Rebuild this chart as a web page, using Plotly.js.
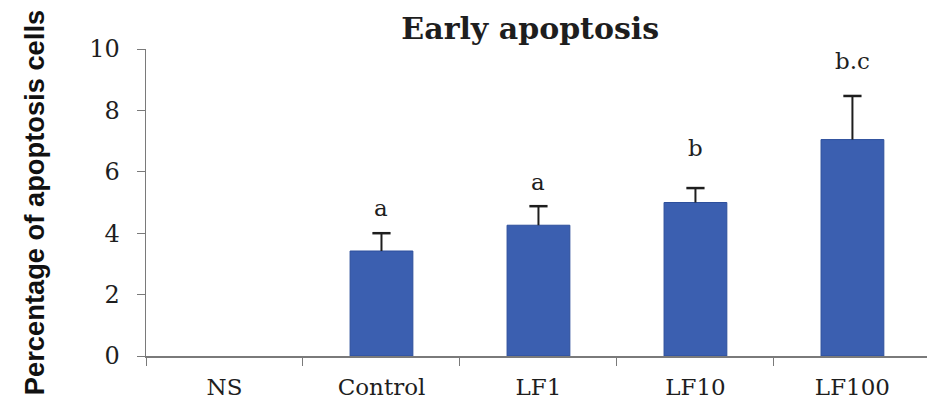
<!DOCTYPE html>
<html>
<head>
<meta charset="utf-8">
<script src="https://cdn.plot.ly/plotly-3.0.1.min.js"></script>
<style>
  html, body { margin: 0; padding: 0; background: #fff; }
  #chart { width: 927px; height: 404px; }
</style>
</head>
<body>
<div id="chart"></div>
<script>
// Early apoptosis: mean percentage per group, upper SD and significance letters
const groups = ["NS", "Control", "LF1", "LF10", "LF100"];
const meanPct = [null, 3.42, 4.26, 5.0, 7.05];
const sdPct = [null, 0.58, 0.62, 0.47, 1.42];
const sigLetters = ["", "a", "a", "b", "b.c"];
const yTicks = [0, 2, 4, 6, 8, 10];

const serif = "DejaVu Serif, Liberation Serif, serif";
const ink = "#1e1e1e";

const bars = {
  type: "bar",
  x: groups,
  y: meanPct,
  width: 0.4,
  marker: { color: "#3b5fb0", line: { color: "#2d4f9c", width: 1 } },
  hoverinfo: "x+y"
};

// upper-only error bars: a stem from the bar top plus a cap at mean + SD
const stemX = [], stemY = [], capX = [], capY = [];
groups.forEach((g, i) => {
  if (meanPct[i] == null) return;
  stemX.push(g, g, null);
  stemY.push(meanPct[i], meanPct[i] + sdPct[i], null);
  capX.push(g);
  capY.push(meanPct[i] + sdPct[i]);
});
const stems = {
  type: "scatter", mode: "lines", x: stemX, y: stemY,
  line: { color: ink, width: 2 }, hoverinfo: "skip"
};
const caps = {
  type: "scatter", mode: "markers", x: capX, y: capY,
  marker: { symbol: "line-ew-open", size: 13, color: ink, line: { color: ink, width: 2.5 } },
  hoverinfo: "skip"
};

// letter placed just above each error bar
const letterOffset = [0, 0.82, 0.8, 1.3, 1.15];
const annotations = groups.map((g, i) => sigLetters[i] ? {
  x: g,
  y: meanPct[i] + sdPct[i] + letterOffset[i],
  text: sigLetters[i],
  showarrow: false,
  font: { family: serif, size: 23, color: ink }
} : null).filter(Boolean);

const layout = {
  width: 927,
  height: 404,
  margin: { l: 146, r: 0, t: 49, b: 48 },
  paper_bgcolor: "#fff",
  plot_bgcolor: "#fff",
  showlegend: false,
  title: {
    text: "<b>Early apoptosis</b>",
    font: { family: serif, size: 30, color: ink },
    x: 0.572, xanchor: "center",
    y: 0.93, yanchor: "middle"
  },
  xaxis: {
    type: "category",
    range: [-0.5, 4.475],
    showline: true, linecolor: "#7a7a7a", linewidth: 1.5,
    ticks: "outside", tickson: "boundaries", ticklen: 8, tickcolor: "#7a7a7a", tickwidth: 1,
    showgrid: false, zeroline: false,
    tickfont: { family: serif, size: 23, color: ink },
    ticklabelstandoff: 10
  },
  yaxis: {
    range: [0, 10],
    tickvals: yTicks,
    showline: true, linecolor: "#7a7a7a", linewidth: 1.5,
    ticks: "outside", ticklen: 8, tickcolor: "#7a7a7a", tickwidth: 1,
    showgrid: false, zeroline: false,
    tickfont: { family: serif, size: 24, color: ink },
    ticklabelstandoff: 12,
    title: {
      text: "<b>Percentage of apoptosis cells</b>",
      font: { family: "Liberation Sans Narrow, Liberation Sans, Arial, sans-serif", size: 27.3, color: "#111" },
      standoff: 36
    }
  },
  annotations: annotations
};

Plotly.newPlot("chart", [bars, stems, caps], layout, { displayModeBar: false, staticPlot: true });
</script>
</body>
</html>
